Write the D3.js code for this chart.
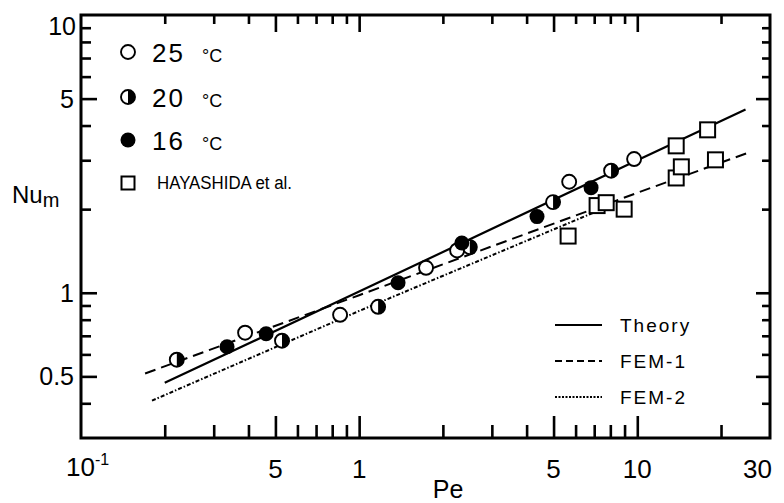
<!DOCTYPE html>
<html>
<head>
<meta charset="utf-8">
<script src="https://cdn.jsdelivr.net/npm/d3@7"></script>
<style>
body { margin: 0; background: #fff; }
text { font-family: "Liberation Sans", Arial, sans-serif; fill: #000; }
</style>
</head>
<body>
<svg id="chart" width="784" height="503"></svg>
<script>
const pe25 = [0.389, 0.854, 1.74, 2.25, 5.69, 9.74];
const nu25 = [0.718, 0.833, 1.23, 1.42, 2.51, 3.03];
const pe20 = [0.221, 0.528, 1.17, 2.50, 4.98, 8.05];
const nu20 = [0.574, 0.672, 0.89, 1.46, 2.12, 2.75];
const pe16 = [0.335, 0.463, 1.38, 2.34, 4.36, 6.82];
const nu16 = [0.639, 0.712, 1.086, 1.51, 1.88, 2.39];
const peHay = [5.64, 7.17, 7.73, 8.97, 13.8, 14.4, 13.8, 17.9, 19.1];
const nuHay = [1.60, 2.06, 2.11, 2.00, 2.59, 2.84, 3.38, 3.86, 3.01];

// curves
const peTheory = [0.2, 1, 10, 24.5];
const nuTheory = [0.474, 1.01, 3.0, 4.57];
const peFem1 = [0.17, 1, 10, 25];
const nuFem1 = [0.512, 0.98, 2.29, 3.19];
const peFem2 = [0.18, 1, 7.2];
const nuFem2 = [0.409, 0.86, 1.97];

// ticks
const xMajor = [0.5, 1, 5, 10];
const xMinor = [0.2, 0.3, 0.4, 0.6, 0.7, 0.8, 0.9, 2, 3, 4, 6, 7, 8, 9, 20];
const yMajor = [0.5, 1, 5];
const yMinor = [0.4, 0.6, 0.7, 0.8, 0.9, 2, 3, 4, 6, 7, 8, 9];
const xLabels = ["5", "1", "5", "10"];
const yLabels = ["0.5", "1", "5"];

const svg = d3.select("#chart");
const plotL = 81, plotR = 770, plotT = 15, plotB = 438;

const x = d3.scaleLog().domain([0.1, 30]).range([plotL, plotR]);
const y = d3.scaleLog().domain([0.3, 10]).range([plotB, plotT]);

// ticks, all pointing inward
function tickAxis(axis, vals, size, tr) {
    const g = svg.append("g")
        .attr("transform", tr)
        .call(axis.tickValues(vals).tickSizeInner(size).tickSizeOuter(0).tickFormat(""));
    g.select(".domain").remove();
    g.selectAll("line").attr("stroke", "#000").attr("stroke-width", 2.6);
}
tickAxis(d3.axisBottom(x), xMajor, -22, `translate(0,${plotB})`);
tickAxis(d3.axisBottom(x), xMinor, -13, `translate(0,${plotB})`);
tickAxis(d3.axisTop(x), xMajor, -17, `translate(0,${plotT})`);
tickAxis(d3.axisTop(x), xMinor, -9, `translate(0,${plotT})`);
tickAxis(d3.axisLeft(y), yMajor, -16, `translate(${plotL},0)`);
tickAxis(d3.axisLeft(y), yMinor, -10, `translate(${plotL},0)`);
tickAxis(d3.axisRight(y), yMajor, -14, `translate(${plotR},0)`);
tickAxis(d3.axisRight(y), yMinor, -8, `translate(${plotR},0)`);

svg.append("rect")
    .attr("x", plotL).attr("y", plotT)
    .attr("width", plotR - plotL).attr("height", plotB - plotT)
    .attr("fill", "none").attr("stroke", "#000").attr("stroke-width", 3);

// tick labels
svg.selectAll(".xl").data(xMajor).join("text")
    .attr("x", d => x(d)).attr("y", 478)
    .attr("text-anchor", "middle").attr("font-size", 26)
    .text((d, i) => xLabels[i]);
svg.append("text").attr("x", x(30) + 2).attr("y", 478)
    .attr("text-anchor", "end").attr("font-size", 26).text("30");
const t01 = svg.append("text").attr("x", 66).attr("y", 476).attr("font-size", 26);
t01.append("tspan").text("10");
t01.append("tspan").attr("font-size", 16).attr("dy", -11).text("-1");

svg.selectAll(".yl").data(yMajor).join("text")
    .attr("x", 74).attr("y", d => y(d) + 9)
    .attr("text-anchor", "end").attr("font-size", 25)
    .text((d, i) => yLabels[i]);
svg.append("text").attr("x", 76).attr("y", 35)
    .attr("text-anchor", "end").attr("font-size", 25).text("10");

// axis titles
const ylab = svg.append("text").attr("x", 12).attr("y", 203).attr("font-size", 24);
ylab.append("tspan").text("Nu");
ylab.append("tspan").attr("font-size", 20).attr("dy", 4).text("m");
svg.append("text").attr("x", 448).attr("y", 498)
    .attr("text-anchor", "middle").attr("font-size", 25).text("Pe");

// curves
const line = d3.line().x(d => x(d[0])).y(d => y(d[1]));
svg.append("path").datum(d3.zip(peTheory, nuTheory)).attr("d", line)
    .attr("fill", "none").attr("stroke", "#000").attr("stroke-width", 2.2);
svg.append("path").datum(d3.zip(peFem1, nuFem1)).attr("d", line)
    .attr("fill", "none").attr("stroke", "#000").attr("stroke-width", 2)
    .attr("stroke-dasharray", "11,6");
svg.append("path").datum(d3.zip(peFem2, nuFem2)).attr("d", line)
    .attr("fill", "none").attr("stroke", "#000").attr("stroke-width", 2)
    .attr("stroke-dasharray", "4,2,1.5,2");

// markers
const r = 7;
const halfPath = `M0,${-r} A${r},${r} 0 0 1 0,${r} Z`;
function openCircle(g) {
    g.append("circle").attr("r", r).attr("fill", "#fff").attr("stroke", "#000").attr("stroke-width", 1.9);
}
function halfCircle(g) {
    openCircle(g);
    g.append("path").attr("d", halfPath).attr("fill", "#000");
}
function fullCircle(g) {
    g.append("circle").attr("r", r + 0.5).attr("fill", "#000");
}
function square(g, s) {
    g.append("rect").attr("x", -s / 2).attr("y", -s / 2).attr("width", s).attr("height", s)
        .attr("fill", "#fff").attr("stroke", "#000").attr("stroke-width", 2);
}
function drawSeries(pe, nu, fn) {
    svg.append("g").selectAll("g").data(d3.zip(pe, nu)).join("g")
        .attr("transform", d => `translate(${x(d[0])},${y(d[1])})`)
        .each(function() { fn(d3.select(this)); });
}
drawSeries(peHay, nuHay, g => square(g, 15));
drawSeries(pe25, nu25, openCircle);
drawSeries(pe20, nu20, halfCircle);
drawSeries(pe16, nu16, fullCircle);

// legend, top left
const legRows = [
    { y: 52, label: "25", fn: openCircle },
    { y: 97, label: "20", fn: halfCircle },
    { y: 140, label: "16", fn: fullCircle }
];
legRows.forEach(d => {
    const g = svg.append("g").attr("transform", `translate(128,${d.y})`);
    d.fn(g);
    svg.append("text").attr("x", 152).attr("y", d.y + 10)
        .attr("font-size", 26).attr("letter-spacing", 2).text(d.label);
    svg.append("text").attr("x", 202).attr("y", d.y + 10)
        .attr("font-size", 18).text("°C");
});
square(svg.append("g").attr("transform", "translate(128,183)"), 13);
svg.append("text").attr("x", 157).attr("y", 189).attr("font-size", 18)
    .attr("textLength", 135).attr("lengthAdjust", "spacingAndGlyphs")
    .text("HAYASHIDA et al.");

// legend, bottom right
const legLines = [
    { y: 325, label: "Theory", dash: null, w: 2.2 },
    { y: 361, label: "FEM-1", dash: "7,4", w: 1.8 },
    { y: 397, label: "FEM-2", dash: "2,1.5", w: 1.8 }
];
legLines.forEach(d => {
    svg.append("line").attr("x1", 555).attr("x2", 602).attr("y1", d.y).attr("y2", d.y)
        .attr("stroke", "#000").attr("stroke-width", d.w)
        .attr("stroke-dasharray", d.dash);
    svg.append("text").attr("x", 620).attr("y", d.y + 7)
        .attr("font-size", 19).attr("letter-spacing", 2).text(d.label);
});
</script>
</body>
</html>
